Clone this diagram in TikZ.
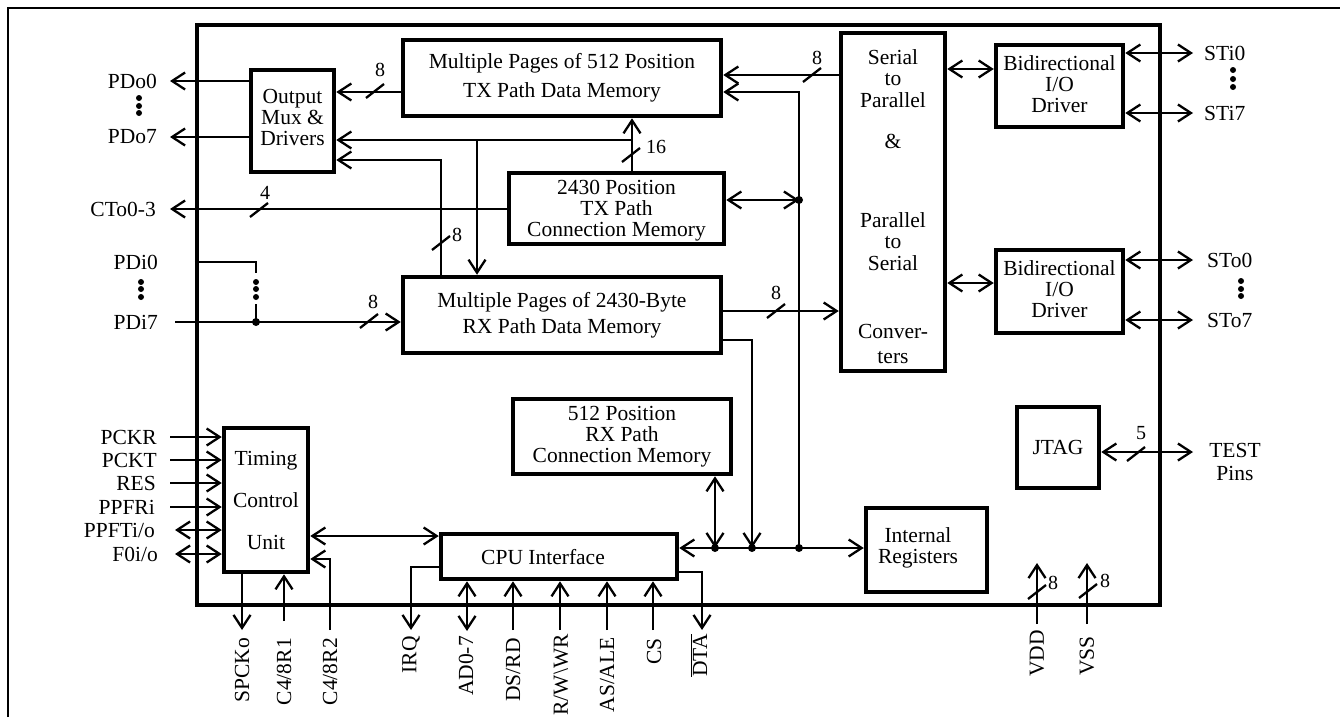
\documentclass[tikz,border=0pt]{standalone}
\usepackage{fontspec}
\setmainfont{Liberation Serif}
\usetikzlibrary{arrows.meta}
\begin{document}
\begin{tikzpicture}[x=1pt,y=-1pt,
  every node/.style={font=\fontsize{21.5}{21}\selectfont},
  box/.style={draw, line width=4.5pt, inner sep=0pt, align=center},
  txt/.style={align=center, inner sep=0pt},
  wire/.style={line width=2.3pt},
  arr/.style={wire, -{Straight Barb[length=13pt,width=17pt]}},
  darr/.style={wire, {Straight Barb[length=13pt,width=17pt]}-{Straight Barb[length=13pt,width=17pt]}},
  pinl/.style={anchor=east, inner sep=0pt},
  pinr/.style={anchor=west, inner sep=0pt},
  pinv/.style={rotate=90, anchor=east, inner sep=0pt},
  wlab/.style={inner sep=0pt, font=\fontsize{20}{20}\selectfont},
  busmark/.pic={\draw[line width=2.3pt] (-9,7) -- (9,-7);},
]
\useasboundingbox (0,0) rectangle (1340,717);
\draw[line width=2pt] (8,717) -- (8,8) -- (1340,8);

% boxes
\node[box, minimum width=963pt, minimum height=580pt] (chip) at (678.5,315) {};
\node[box, minimum width=83pt, minimum height=102pt] (mux) at (292.5,121) {};
\node[txt] (muxt) at (292.5,117.5) {Output\\Mux \&\\Drivers};
\node[box, minimum width=318pt, minimum height=76pt] (txdm) at (562,78) {Multiple Pages of 512 Position\\[8pt]TX Path Data Memory};
\node[box, minimum width=104pt, minimum height=338pt] (s2p) at (893,202) {};
\node[txt] (s2pt) at (893,207) {Serial\\to\\[1pt]Parallel\\[20pt]\&\\[58pt]Parallel\\to\\[1pt]Serial\\[47pt]Conver-\\[4pt]ters};
\node[box, minimum width=127pt, minimum height=82pt] (bid1) at (1059.5,86) {};
\node[txt] (bid1t) at (1059.5,84) {Bidirectional\\I/O\\Driver};
\node[box, minimum width=127pt, minimum height=83pt] (bid2) at (1059.5,291.5) {};
\node[txt] (bid2t) at (1059.5,289.5) {Bidirectional\\I/O\\Driver};
\node[box, minimum width=215pt, minimum height=71pt] (txcm) at (616.5,208.5) {};
\node[txt] (txcmt) at (616.5,211) {2430 Position\\TX Path\\Connection Memory};
\node[box, minimum width=318pt, minimum height=76pt] (rxdm) at (562,315) {Multiple Pages of 2430-Byte\\[5pt]RX Path Data Memory};
\node[box, minimum width=218pt, minimum height=75pt] (rxcm) at (622,436.5) {512 Position\\RX Path\\Connection Memory};
\node[box, minimum width=84pt, minimum height=144pt] (tcu) at (266,500) {Timing\\[21pt]Control\\[21pt]Unit};
\node[box, minimum width=236pt, minimum height=45pt] (cpu) at (559,556.5) {};
\node (cputext) at (543,557) {CPU Interface};
\node[box, minimum width=121pt, minimum height=84pt] (ireg) at (926.5,550) {};
\node[txt] (iregtext) at (918,548) {Internal\\Registers};
\node[box, minimum width=82pt, minimum height=81pt] (jtag) at (1058,447.5) {JTAG};

% PDo outputs
\coordinate (pdo0) at (170,81);
\coordinate (pdo7) at (170,137);
\node[pinl] (lpdo0) at (157,81) {PDo0};
\node[pinl] (lpdo7) at (157,137) {PDo7};
\foreach \y in {98,106,113} \fill (139,\y) circle (3pt);
\draw[arr] (mux.west |- pdo0) -- (pdo0);
\draw[arr] (mux.west |- pdo7) -- (pdo7);

% TX data memory -> mux
\draw[arr] (txdm.west |- 0,92) -- (mux.east |- 0,92);
\pic at (375,91) {busmark};
\node[wlab] (w1) at (380,70) {8};

% TX connection memory -> TX data memory, mux, RX data memory
\coordinate (j16) at (632,140);
\coordinate (j477) at (477,140);
\draw[arr] (txcm.north -| j16) -- (txdm.south -| j16);
\draw[arr] (j16) -- (mux.east |- j16);
\draw[arr] (j477) -- (rxdm.north -| j477);
\pic at (631,155) {busmark};
\node[wlab] (w2) at (656,147) {16};

% RX data memory -> mux
\coordinate (c441) at (441,160);
\draw[arr] (rxdm.north -| c441) -- (c441) -- (mux.east |- c441);
\pic at (441,243) {busmark};
\node[wlab] (w3) at (457,235) {8};

% CTo0-3
\coordinate (cto) at (170,209);
\node[pinl] (lcto) at (156,209) {CTo0-3};
\draw[arr] (txcm.west |- cto) -- (cto);
\pic at (259,210) {busmark};
\node[wlab] (w4) at (265,193) {4};

% S2P -> TX data memory
\draw[arr] (s2p.west |- 0,75) -- (txdm.east |- 0,75);
\pic at (812,75) {busmark};
\node[wlab] (w5) at (817,58) {8};

% internal bus
\coordinate (b715) at (715,548);
\coordinate (b752) at (752,548);
\coordinate (b799) at (799,548);
\coordinate (j800) at (799,200);
\draw[arr] (b799) |- (txdm.east |- 0,92);
\draw[darr] (txcm.east |- j800) -- (j800);
\fill (j800) circle (4pt);
\draw[arr] (rxdm.east |- 0,340) -| (b752);
\draw[darr] (rxcm.south -| b715) -- (b715);
\draw[darr] (cpu.east |- b715) -- (ireg.west |- b715);
\foreach \c in {b715,b752,b799} \fill (\c) circle (4pt);

% RX data memory -> P2S
\draw[arr] (rxdm.east |- 0,311) -- (s2p.west |- 0,311);
\pic at (776,311) {busmark};
\node[wlab] (w6) at (776,293) {8};

% S2P <-> drivers
\draw[darr] (s2p.east |- 0,69) -- (bid1.west |- 0,69);
\draw[darr] (s2p.east |- 0,283) -- (bid2.west |- 0,283);

% serial pins
\coordinate (sti0) at (1193,53);
\coordinate (sti7) at (1193,113);
\coordinate (sto0) at (1193,260);
\coordinate (sto7) at (1193,320);
\draw[darr] (bid1.east |- sti0) -- (sti0);
\draw[darr] (bid1.east |- sti7) -- (sti7);
\draw[darr] (bid2.east |- sto0) -- (sto0);
\draw[darr] (bid2.east |- sto7) -- (sto7);
\node[pinr] (lsti0) at (1204,53) {STi0};
\node[pinr] (lsti7) at (1204,113) {STi7};
\node[pinr] (lsto0) at (1207,260) {STo0};
\node[pinr] (lsto7) at (1207,320) {STo7};
\foreach \y in {70,79,87} \fill (1233,\y) circle (3pt);
\foreach \y in {281,289,296} \fill (1241,\y) circle (3pt);

% JTAG
\coordinate (test) at (1193,452);
\draw[darr] (jtag.east |- test) -- (test);
\pic at (1136,454) {busmark};
\node[wlab] (w7) at (1141,433) {5};
\node[txt] (ltest) at (1235,462) {TEST\\[2pt]Pins};

% PDi inputs
\coordinate (pdi0c) at (256,262);
\coordinate (pdi0d) at (256,273);
\coordinate (pdi0e) at (256,304);
\coordinate (jpdi) at (256,322);
\coordinate (pdi7) at (175,322);
\draw[wire] (chip.west |- pdi0c) -- (pdi0c) -- (pdi0d);
\foreach \y in {282,289,297} \fill (256,\y) circle (3pt);
\draw[wire] (pdi0e) -- (jpdi);
\fill (jpdi) circle (4pt);
\draw[arr] (pdi7) -- (rxdm.west |- pdi7);
\pic at (369,321) {busmark};
\node[wlab] (w8) at (373,302) {8};
\node[pinl] (lpdi0) at (158,262) {PDi0};
\node[pinl] (lpdi7) at (158,322) {PDi7};
\foreach \y in {282,289,297} \fill (141,\y) circle (3pt);

% timing inputs
\coordinate (pckr) at (170,437);
\coordinate (pckt) at (170,460);
\coordinate (res) at (170,483);
\coordinate (ppfr) at (170,507);
\coordinate (ppft) at (175,530);
\coordinate (f0) at (175,554);
\node[pinl] (lpckr) at (157,437) {PCKR};
\node[pinl] (lpckt) at (157,460) {PCKT};
\node[pinl] (lres) at (156,483) {RES};
\node[pinl] (lppfr) at (155,507) {PPFRi};
\node[pinl] (lppft) at (155,530) {PPFTi/o};
\node[pinl] (lf0) at (158,554) {F0i/o};
\draw[arr] (pckr) -- (tcu.west |- pckr);
\draw[arr] (pckt) -- (tcu.west |- pckt);
\draw[arr] (res) -- (tcu.west |- res);
\draw[arr] (ppfr) -- (tcu.west |- ppfr);
\draw[darr] (ppft) -- (tcu.west |- ppft);
\draw[darr] (f0) -- (tcu.west |- f0);

% timing <-> cpu
\draw[darr] (tcu.east |- 0,536) -- (cpu.west |- 0,536);

% bottom pins
\coordinate (spcko) at (242,630);
\coordinate (c481) at (284,621);
\coordinate (c482) at (330,630);
\coordinate (irq) at (411,630);
\coordinate (ad) at (467,631);
\coordinate (ds) at (513,630);
\coordinate (rw) at (560,630);
\coordinate (as) at (607,630);
\coordinate (cs) at (653,630);
\coordinate (dta) at (702,630);
\draw[arr] (tcu.south -| spcko) -- (spcko);
\draw[arr] (c481) -- (tcu.south -| c481);
\draw[arr] (c482) |- (tcu.east |- 0,559);
\draw[arr] (cpu.west |- 0,567) -| (irq);
\draw[darr] (cpu.south -| ad) -- (ad);
\draw[arr] (ds) -- (cpu.south -| ds);
\draw[arr] (rw) -- (cpu.south -| rw);
\draw[arr] (as) -- (cpu.south -| as);
\draw[arr] (cs) -- (cpu.south -| cs);
\draw[arr] (cpu.east |- 0,572) -| (dta);

\node[pinv] (lspcko) at (242,638) {SPCKo};
\node[pinv] (lc481) at (284,638) {C4/8R1};
\node[pinv] (lc482) at (330,638) {C4/8R2};
\node[pinv] (lirq) at (411,636) {IRQ};
\node[pinv] (lad) at (466,636) {AD0-7};
\node[pinv] (lds) at (513,638) {DS/RD};
\node[pinv] (lrw) at (561,634) {R/W\textbackslash WR};
\node[pinv] (las) at (607,637) {AS/ALE};
\node[pinv] (lcs) at (654,638) {CS};
\node[pinv] (ldta) at (699,634) {$\overline{\mbox{DTA}}$};

% power
\coordinate (vdd) at (1037,624);
\coordinate (vddt) at (1037,563);
\coordinate (vss) at (1087,624);
\coordinate (vsst) at (1087,563);
\draw[arr] (vdd) -- (vddt);
\draw[arr] (vss) -- (vsst);
\pic at (1037,592) {busmark};
\pic at (1088,591) {busmark};
\node[wlab] (w9) at (1053,583) {8};
\node[wlab] (w10) at (1105,581) {8};
\node[pinv] (lvdd) at (1037,630) {VDD};
\node[pinv] (lvss) at (1087,636) {VSS};
\end{tikzpicture}
\end{document}
